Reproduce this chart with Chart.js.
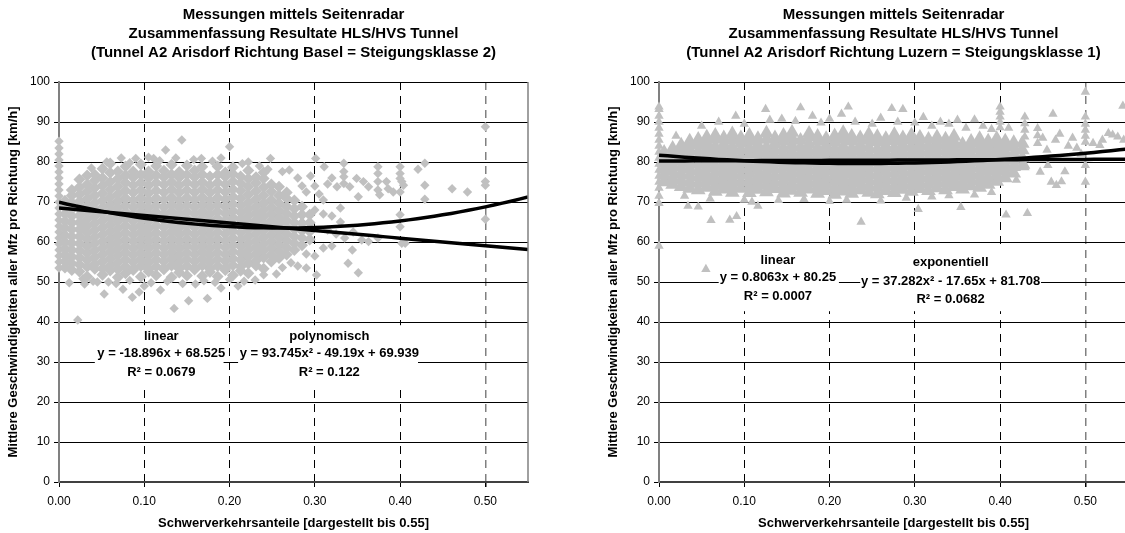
<!DOCTYPE html>
<html>
<head>
<meta charset="utf-8">
<script src="https://cdn.jsdelivr.net/npm/chart.js@4.4.1/dist/chart.umd.min.js"></script>
<style>
  html, body { margin: 0; padding: 0; background: #fff; overflow: hidden; }
  #wrap { position: relative; width: 1125px; height: 533px; overflow: hidden; }
  canvas { position: absolute; top: 0; }
  #basel { left: 0; }
  #luzern { left: 600px; }
</style>
</head>
<body>
<div id="wrap">
  <canvas id="basel" width="560" height="533"></canvas>
  <canvas id="luzern" width="560" height="533"></canvas>
</div>
<script>
// Axis ticks
const xTicks = [0, 0.1, 0.2, 0.3, 0.4, 0.5]
const yTicks = [0, 10, 20, 30, 40, 50, 60, 70, 80, 90, 100]

const xTitle = "Schwerverkehrsanteile [dargestellt bis 0.55]"
const yTitle = "Mittlere Geschwindigkeiten aller Mfz pro Richtung [km/h]"

// Trend line coefficients (highest power first) and R² values
const baselLinear = [-18.896, 68.525]
const baselPoly = [93.745, -49.19, 69.939]
const baselR2 = [0.0679, 0.122]
const luzernLinear = [0.8063, 80.25]
const luzernPoly = [37.282, -17.65, 81.708]
const luzernR2 = [0.0007, 0.0682]

// Basel: speeds measured with no heavy traffic (share 0.00)
const baselZeroY = [53.5, 55, 56.5, 58, 59.5, 61, 62.5, 64, 65.5, 67, 68.5, 70, 71.5, 73, 74.5, 76,
  77.5, 79, 80.5, 82, 83.5, 85.2]
// Basel: measurements grouped by heavy traffic share (dense part of the cloud)
const baselColX = [0.007, 0.015, 0.024, 0.033, 0.042, 0.051, 0.060, 0.069, 0.078, 0.087, 0.096,
  0.105, 0.114, 0.123, 0.132, 0.141, 0.150, 0.159, 0.168, 0.177, 0.186, 0.195, 0.204, 0.213,
  0.222, 0.231, 0.240, 0.249, 0.258, 0.267, 0.276, 0.285, 0.294]
const baselColY = [
  [53.6, 55.2, 56.8, 58.4, 60, 61.7, 63.5, 65.2, 67, 68.7, 70.3],
  [53, 54.6, 56.3, 58, 59.7, 61.4, 63.1, 64.8, 66.5, 68.2, 69.9, 71.6, 73],
  [52.6, 54.4, 56.1, 57.9, 59.6, 61.4, 63.1, 64.9, 66.6, 68.4, 70.1, 71.9, 73.7, 75.6],
  [51.4, 53.8, 55.5, 57.2, 58.9, 60.6, 62.3, 64, 65.7, 67.4, 69.1, 70.8, 72.6, 74.4, 76.6],
  [53.3, 54.5, 56.2, 57.9, 59.6, 61.3, 63, 64.7, 66.4, 68.1, 69.8, 71.6, 73.5, 75.4, 76.8],
  [51.8, 53.4, 55.1, 56.8, 58.5, 60.2, 61.9, 63.6, 65.3, 67, 68.7, 70.4, 72.2, 74.1, 76, 78.3],
  [52.9, 54.1, 55.8, 57.5, 59.2, 60.9, 62.6, 64.3, 66, 67.7, 69.4, 71.2, 73.1, 75, 77.3, 79.6],
  [51.2, 53.2, 54.9, 56.6, 58.3, 60, 61.7, 63.4, 65.1, 66.8, 68.5, 70.2, 72, 73.9, 75.8, 77.6],
  [52.2, 53.9, 55.6, 57.3, 59, 60.7, 62.4, 64.1, 65.8, 67.5, 69.2, 71, 72.9, 74.8, 76.7, 78.9],
  [53, 53.3, 55, 56.7, 58.4, 60.1, 61.8, 63.5, 65.2, 66.9, 68.6, 70.4, 72.3, 74.2, 76.1, 77.6],
  [51.3, 54, 55.7, 57.4, 59.1, 60.8, 62.5, 64.2, 65.9, 67.6, 69.3, 71.1, 73, 74.9, 76.8, 79.4],
  [52.6, 53.2, 54.9, 56.6, 58.3, 60, 61.7, 63.4, 65.1, 66.8, 68.5, 70.3, 72.2, 74.1, 76, 77.6],
  [51.7, 53.9, 55.6, 57.3, 59, 60.7, 62.4, 64.1, 65.8, 67.5, 69.2, 71, 72.9, 74.8, 76.7, 79],
  [53.2, 53.4, 55.1, 56.8, 58.5, 60.2, 61.9, 63.6, 65.3, 67, 68.7, 70.5, 72.4, 74.3, 76.2, 77.8],
  [51.2, 54.1, 55.8, 57.5, 59.2, 60.9, 62.6, 64.3, 66, 67.7, 69.4, 71.2, 73.1, 75, 76.9, 79.3],
  [52.4, 53.3, 55, 56.7, 58.4, 60.1, 61.8, 63.5, 65.2, 66.9, 68.6, 70.4, 72.3, 74.2, 76.1, 77.5],
  [51.6, 54, 55.7, 57.4, 59.1, 60.8, 62.5, 64.2, 65.9, 67.6, 69.3, 71.1, 73, 74.9, 76.8, 79.1],
  [53.1, 53.4, 55.1, 56.8, 58.5, 60.2, 61.9, 63.6, 65.3, 67, 68.7, 70.5, 72.4, 74.3, 76.2, 77.9],
  [51.5, 54.1, 55.8, 57.5, 59.2, 60.9, 62.6, 64.3, 66, 67.7, 69.4, 71.2, 73.1, 75, 76.9, 78.8],
  [52.5, 53.3, 55, 56.7, 58.4, 60.1, 61.8, 63.5, 65.2, 66.9, 68.6, 70.4, 72.3, 74.2, 76.4],
  [51.4, 54, 55.7, 57.4, 59.1, 60.8, 62.5, 64.2, 65.9, 67.6, 69.3, 71.1, 73, 74.9, 76.8, 78.9],
  [53, 53.5, 55.2, 56.9, 58.6, 60.3, 62, 63.7, 65.4, 67.1, 68.8, 70.6, 72.5, 74.4, 76.3, 77.4],
  [51.7, 54.2, 55.9, 57.6, 59.3, 61, 62.7, 64.4, 66.1, 67.8, 69.5, 71.3, 73.2, 75.1, 77, 78.7],
  [52.8, 53.8, 55.5, 57.2, 58.9, 60.6, 62.3, 64, 65.7, 67.4, 69.1, 70.9, 72.8, 74.7, 76.4],
  [52.2, 54.6, 56.3, 58, 59.7, 61.4, 63.1, 64.8, 66.5, 68.2, 69.9, 71.8, 73.8, 75.8, 77.9],
  [54.1, 55.3, 57, 58.7, 60.4, 62.1, 63.8, 65.5, 67.2, 68.9, 70.7, 72.7, 74.8, 76.2],
  [53.3, 56.1, 57.8, 59.5, 61.2, 62.9, 64.6, 66.3, 68, 69.7, 71.6, 73.7, 75.9, 77.4],
  [55.1, 56.8, 58.5, 60.2, 61.9, 63.6, 65.3, 67, 68.7, 70.5, 72.6, 74.4],
  [56, 57.7, 59.4, 61.1, 62.8, 64.5, 66.2, 67.9, 69.7, 71.6, 73.8],
  [56.9, 58.6, 60.3, 62, 63.7, 65.4, 67.1, 68.9, 70.9, 72.4],
  [58, 59.7, 61.4, 63.1, 64.8, 66.5, 68.3, 70.4],
  [59.2, 61, 62.8, 64.7, 66.8, 68.8],
  [60.6, 62.6, 64.8, 66.8]
]
// Basel: single measurements outside the dense part
const baselSingles = [
  [0.022, 40.5], [0.053, 47], [0.012, 49.8], [0.075, 48.2], [0.086, 46.2], [0.094, 47.5], [0.119, 48],
  [0.135, 43.4], [0.152, 45.3], [0.174, 45.9], [0.03, 49.5], [0.045, 50], [0.1, 49], [0.16, 49.5],
  [0.19, 48.5], [0.21, 49], [0.23, 50.5], [0.255, 52], [0.144, 85.5], [0.125, 83], [0.2, 83.8],
  [0.248, 80.9], [0.09, 80.9], [0.111, 80.9], [0.167, 80.9], [0.222, 80], [0.27, 78], [0.28, 76],
  [0.285, 74], [0.29, 72.5], [0.295, 76.5], [0.3, 74], [0.305, 72], [0.31, 70.5], [0.315, 74.5],
  [0.32, 76], [0.3, 68], [0.31, 67], [0.32, 66.5], [0.33, 68.5], [0.315, 63], [0.325, 62], [0.335, 61],
  [0.345, 62.5], [0.355, 60.5], [0.33, 65], [0.29, 57], [0.3, 56.5], [0.31, 58.5], [0.32, 59],
  [0.28, 54], [0.29, 53.5], [0.301, 80.9], [0.311, 78.8], [0.334, 79.7], [0.334, 77.6], [0.334, 76.3],
  [0.334, 74.6], [0.326, 73.8], [0.341, 73.8], [0.349, 75.9], [0.357, 75.1], [0.363, 73.8], [0.351, 71.3],
  [0.374, 78.8], [0.374, 77.1], [0.374, 75.1], [0.374, 73], [0.376, 71.8], [0.384, 75.1], [0.386, 73.3],
  [0.392, 72.5], [0.4, 78.8], [0.4, 77.1], [0.4, 75.9], [0.402, 75.1], [0.4, 72.5], [0.404, 74.2],
  [0.421, 78.2], [0.429, 79.7], [0.429, 74.2], [0.429, 70.7], [0.461, 73.3], [0.479, 72.5], [0.5, 88.8],
  [0.5, 75.1], [0.5, 74.2], [0.5, 65.7], [0.4, 66.8], [0.4, 63.8], [0.402, 59.7], [0.406, 59.7],
  [0.339, 54.7], [0.351, 52.3], [0.363, 60.1], [0.374, 61], [0.344, 58], [0.302, 51.75],
  [0.038, 78.5], [0.056, 80], [0.073, 81], [0.083, 79.8], [0.105, 81.2], [0.118, 80.3], [0.137, 81],
  [0.158, 80.6], [0.18, 80.2], [0.19, 81], [0.215, 79.6], [0.235, 79], [0.245, 78.2], [0.262, 77.6],
  [0.028, 50.8], [0.04, 50.2], [0.058, 50], [0.067, 49.6], [0.083, 50.4], [0.108, 49.8], [0.127, 50.2],
  [0.145, 49.6], [0.17, 50.3], [0.183, 49.9], [0.2, 50.6], [0.217, 50.2], [0.24, 51.8], [0.262, 53.6],
  [0.272, 54.8]
]

// Luzern: speeds measured with no heavy traffic (share 0.00)
const luzernZeroY = [73.5, 75, 76.5, 78, 79.5, 81, 82.5, 84, 85.5, 87, 88.5, 90, 91.5, 93.2]
// Luzern: measurements grouped by heavy traffic share (dense part of the cloud)
const luzernColX = [0.006, 0.016, 0.026, 0.036, 0.046, 0.056, 0.066, 0.076, 0.086, 0.096, 0.106,
  0.116, 0.126, 0.136, 0.146, 0.156, 0.166, 0.176, 0.186, 0.196, 0.206, 0.216, 0.226, 0.236, 0.246,
  0.256, 0.266, 0.276, 0.286, 0.296, 0.306, 0.316, 0.326, 0.336, 0.346, 0.356, 0.366, 0.376, 0.386,
  0.396, 0.406, 0.416, 0.426]
const luzernColY = [
  [75, 76.6, 78.2, 79.8, 81.4, 82.4],
  [74.4, 76, 77.6, 79.2, 80.8, 82.4, 83.4],
  [73.8, 75.4, 77, 78.6, 80.2, 81.8, 83.4, 84.2],
  [73.4, 75, 76.6, 78.2, 79.8, 81.4, 83, 84.6, 85.2],
  [73, 74.6, 76.2, 77.8, 79.4, 81, 82.6, 84.2, 85.6],
  [73.6, 75.2, 76.8, 78.4, 80, 81.6, 83.2, 84.8, 86.2],
  [72.6, 74.2, 75.8, 77.4, 79, 80.6, 82.2, 83.8, 85.6, 86.6],
  [73.2, 74.8, 76.4, 78, 79.6, 81.2, 82.8, 84.4, 86],
  [72.4, 74, 75.6, 77.2, 78.8, 80.4, 82, 83.6, 85.4, 87],
  [73.4, 75, 76.6, 78.2, 79.8, 81.4, 83, 84.6, 86],
  [72.3, 73.9, 75.5, 77.1, 78.7, 80.3, 81.9, 83.5, 85.3, 86.6],
  [73.1, 74.7, 76.3, 77.9, 79.5, 81.1, 82.7, 84.3, 85.8],
  [72.5, 74.1, 75.7, 77.3, 78.9, 80.5, 82.1, 83.7, 85.6, 87.2],
  [73.3, 74.9, 76.5, 78.1, 79.7, 81.3, 82.9, 84.5, 86],
  [72.2, 73.8, 75.4, 77, 78.6, 80.2, 81.8, 83.4, 85.2, 86.6],
  [72.9, 74.5, 76.1, 77.7, 79.3, 80.9, 82.5, 84.1, 86, 87.4],
  [72.4, 74, 75.6, 77.2, 78.8, 80.4, 82, 83.6, 85.4],
  [73.2, 74.8, 76.4, 78, 79.6, 81.2, 82.8, 84.4, 86.2, 87.1],
  [72.1, 73.7, 75.3, 76.9, 78.5, 80.1, 81.7, 83.3, 85.1, 86.4],
  [72.8, 74.4, 76, 77.6, 79.2, 80.8, 82.4, 84, 85.8],
  [71.9, 73.5, 75.1, 76.7, 78.3, 79.9, 81.5, 83.1, 84.9, 86.5],
  [72.7, 74.3, 75.9, 77.5, 79.1, 80.7, 82.3, 83.9, 85.8, 87.3],
  [72.1, 73.7, 75.3, 76.9, 78.5, 80.1, 81.7, 83.3, 85.2, 86.4],
  [73, 74.6, 76.2, 77.8, 79.4, 81, 82.6, 84.2, 86],
  [72.4, 74, 75.6, 77.2, 78.8, 80.4, 82, 83.6, 85.4, 86.9],
  [72, 73.6, 75.2, 76.8, 78.4, 80, 81.6, 83.2, 85, 86.3],
  [72.8, 74.4, 76, 77.6, 79.2, 80.8, 82.4, 84, 85.8],
  [72.3, 73.9, 75.5, 77.1, 78.7, 80.3, 81.9, 83.5, 85.3, 86.8],
  [73.1, 74.7, 76.3, 77.9, 79.5, 81.1, 82.7, 84.3, 86],
  [72.6, 74.2, 75.8, 77.4, 79, 80.6, 82.2, 83.8, 85.5, 86.7],
  [73.3, 74.9, 76.5, 78.1, 79.7, 81.3, 82.9, 84.5, 86.1],
  [72.8, 74.4, 76, 77.6, 79.2, 80.8, 82.4, 84, 85.6],
  [73.5, 75.1, 76.7, 78.3, 79.9, 81.5, 83.1, 84.7, 86.2],
  [73, 74.6, 76.2, 77.8, 79.4, 81, 82.6, 84.2, 85.7],
  [73.8, 75.4, 77, 78.6, 80.2, 81.8, 83.4, 85, 86.4],
  [73.2, 74.8, 76.4, 78, 79.6, 81.2, 82.8, 84.4],
  [74, 75.6, 77.2, 78.8, 80.4, 82, 83.6, 85.1],
  [73.6, 75.2, 76.8, 78.4, 80, 81.6, 83.2, 84.8, 85.8],
  [74.4, 76, 77.6, 79.2, 80.8, 82.4, 84, 85.2],
  [75.1, 76.7, 78.3, 79.9, 81.5, 83.1, 84.7, 85.8],
  [76, 77.6, 79.2, 80.8, 82.4, 84, 85.2],
  [77.2, 78.8, 80.4, 82, 83.6, 84.8],
  [79, 81, 83, 84.6]
]
// Luzern: single measurements outside the dense part
const luzernSingles = [
  [0, 93.8], [0, 71.5], [0, 69.7], [0, 59], [0.055, 53.2], [0.034, 69], [0.046, 68.8], [0.061, 65.4],
  [0.083, 65.5], [0.091, 66.4], [0.109, 70], [0.116, 69], [0.125, 93.2], [0.166, 93.6], [0.144, 90.8],
  [0.09, 91.5], [0.18, 91.5], [0.2, 90.8], [0.214, 92], [0.222, 93.8], [0.237, 65], [0.26, 91],
  [0.273, 93.4], [0.286, 93.2], [0.304, 68.2], [0.31, 91.2], [0.33, 90], [0.35, 90.5], [0.354, 68.7],
  [0.37, 90.6], [0.4, 93.8], [0.4, 92.5], [0.4, 91.3], [0.4, 90], [0.4, 88.6], [0.407, 66.8],
  [0.419, 78.8], [0.419, 75.5], [0.429, 91.3], [0.429, 89.6], [0.429, 88], [0.429, 86.3], [0.43, 79],
  [0.432, 67.2], [0.444, 88.4], [0.444, 86.6], [0.444, 84.7], [0.447, 77.5], [0.45, 86], [0.455, 83],
  [0.456, 79.2], [0.46, 75], [0.462, 92], [0.465, 85.5], [0.466, 74.2], [0.47, 87], [0.472, 75.1],
  [0.476, 77.6], [0.48, 84], [0.485, 86], [0.49, 83.5], [0.495, 82], [0.5, 97.5], [0.5, 91.3],
  [0.5, 89.5], [0.5, 88], [0.5, 86.5], [0.5, 85], [0.5, 79.2], [0.5, 75], [0.509, 84.7], [0.517, 84.2],
  [0.52, 85.5], [0.527, 87.2], [0.532, 86.8], [0.538, 86.3], [0.544, 94], [0.545, 85.5],
  [0.02, 86.5], [0.05, 89], [0.07, 90], [0.1, 89.5], [0.13, 90.5], [0.16, 90.2], [0.19, 89.8],
  [0.23, 90], [0.25, 89.5], [0.28, 90], [0.3, 89.8], [0.32, 89], [0.34, 89.5], [0.36, 88.5],
  [0.38, 89], [0.39, 88.2], [0.41, 88.5], [0.03, 71.5], [0.06, 70.8], [0.1, 70.5], [0.14, 70.4],
  [0.17, 70.7], [0.2, 70.2], [0.22, 70.5], [0.26, 70.3], [0.29, 71], [0.32, 71.3], [0.34, 71.6],
  [0.37, 71.8], [0.39, 72.4]
]

const fontFamily = '"Liberation Sans", Arial, sans-serif'
const trendX = Array.from({ length: 56 }, (_, i) => i / 100)

function polyValue(c, x) {
  return c.reduce((acc, k) => acc * x + k, 0)
}

function equation(c) {
  const pow = ["", "x", "x²"]
  return "y = " + c.map((k, i) => {
    const p = pow[c.length - 1 - i]
    if (i === 0) return k + p
    return (k < 0 ? " - " : " + ") + Math.abs(k) + p
  }).join("")
}

function columnPoints(colX, colY) {
  const pts = []
  colX.forEach((x, i) => colY[i].forEach((y) => pts.push({ x, y })))
  return pts
}

function trendDataset(c) {
  return {
    data: trendX.map((x) => ({ x, y: polyValue(c, x) })),
    showLine: true,
    borderColor: "#000",
    borderWidth: 3.5,
    pointRadius: 0,
    order: 0,
  }
}

function markDataset(points, style, radius) {
  return {
    data: points,
    pointStyle: style,
    pointRadius: radius,
    backgroundColor: "#c0c0c0",
    borderColor: "#c0c0c0",
    pointBorderWidth: 0,
    order: 1,
    clip: false,
  }
}

// Right frame edge and the white trend line equation boxes
const frameAndLabels = {
  id: "frameAndLabels",
  afterDatasetsDraw(chart, args, opts) {
    const { ctx, chartArea: a, scales: { x, y } } = chart
    ctx.save()
    ctx.strokeStyle = "#808080"
    ctx.lineWidth = 1.5
    ctx.beginPath()
    ctx.moveTo(a.right, a.top)
    ctx.lineTo(a.right, a.bottom)
    ctx.stroke()

    ctx.font = "bold 13px " + fontFamily
    ctx.textAlign = "center"
    ctx.textBaseline = "middle"
    opts.blocks.forEach((b) => {
      const x0 = x.getPixelForValue(b.box[0])
      const x1 = x.getPixelForValue(b.box[1])
      const y0 = y.getPixelForValue(b.box[2])
      const y1 = y.getPixelForValue(b.box[3])
      ctx.fillStyle = "#fff"
      ctx.fillRect(x0, y0, x1 - x0, y1 - y0)
      ctx.fillStyle = "#000"
      b.lines.forEach((t, i) => ctx.fillText(t, x.getPixelForValue(b.x), y.getPixelForValue(b.ys[i])))
    })
    ctx.restore()
  },
}

function makeChart(id, titleLines, marks, linear, poly, blocks) {
  const tickFont = { family: fontFamily, size: 12 }
  const axisFont = { family: fontFamily, size: 13, weight: "bold", lineHeight: 1.2 }
  return new Chart(document.getElementById(id), {
    type: "scatter",
    data: {
      datasets: [trendDataset(linear), trendDataset(poly), ...marks],
    },
    options: {
      responsive: false,
      animation: false,
      events: [],
      layout: { padding: { left: 0, right: 32, top: 0, bottom: 0 } },
      scales: {
        x: {
          type: "linear",
          min: 0,
          max: 0.55,
          afterBuildTicks: (s) => { s.ticks = xTicks.map((v) => ({ value: v })) },
          afterFit: (s) => { s.height = 51 },
          grid: {
            color: (c) => (c.tick.value === 0 ? "rgba(0,0,0,0)" : c.tick.value === 0.5 ? "#808080" : "#000"),
            lineWidth: (c) => (c.tick.value === 0.5 ? 1.5 : 1),
            tickColor: "#000",
            tickLength: 5,
          },
          border: { color: "#404040", width: 2, dash: [8, 6] },
          ticks: { color: "#000", font: tickFont, padding: 7, maxRotation: 0, autoSkip: false, callback: (v) => v.toFixed(2) },
          title: { display: true, text: xTitle, color: "#000", font: axisFont, padding: { top: 0, bottom: 2 } },
        },
        y: {
          type: "linear",
          min: 0,
          max: 100,
          afterBuildTicks: (s) => { s.ticks = yTicks.map((v) => ({ value: v })) },
          afterFit: (s) => { s.width = 59 },
          grid: { color: "#000", lineWidth: 1, tickColor: "#000", tickLength: 5 },
          border: { color: "#808080", width: 2 },
          ticks: { color: "#000", font: tickFont, padding: 4 },
          title: { display: true, text: yTitle, color: "#000", font: axisFont, padding: { top: 6, bottom: 0 } },
        },
      },
      plugins: {
        legend: { display: false },
        tooltip: { enabled: false },
        title: {
          display: true,
          text: titleLines,
          color: "#000",
          fullSize: false,
          font: { family: fontFamily, size: 15, weight: "bold", lineHeight: "19px" },
          padding: { top: 5, bottom: 20 },
        },
        frameAndLabels: { blocks },
      },
    },
    plugins: [frameAndLabels],
  })
}

makeChart(
  "basel",
  ["Messungen mittels Seitenradar", "Zusammenfassung Resultate HLS/HVS Tunnel", "(Tunnel A2 Arisdorf Richtung Basel = Steigungsklasse 2)"],
  [
    markDataset(columnPoints(baselColX, baselColY), "rectRot", 6),
    markDataset(baselZeroY.map((y) => ({ x: 0, y })), "rectRot", 4.7),
    markDataset(baselSingles.map(([x, y]) => ({ x, y })), "rectRot", 4.7),
  ],
  baselLinear,
  baselPoly,
  [
    { x: 0.12, ys: [36.3, 32.2, 27.3], box: [0.042, 0.193, 39.2, 23.3], lines: ["linear", equation(baselLinear), "R² = " + baselR2[0]] },
    { x: 0.317, ys: [36.3, 32.2, 27.3], box: [0.21, 0.421, 39.2, 23.3], lines: ["polynomisch", equation(baselPoly), "R² = " + baselR2[1]] },
  ]
)

makeChart(
  "luzern",
  ["Messungen mittels Seitenradar", "Zusammenfassung Resultate HLS/HVS Tunnel", "(Tunnel A2 Arisdorf Richtung Luzern = Steigungsklasse 1)"],
  [
    markDataset(columnPoints(luzernColX, luzernColY), "triangle", 8.5),
    markDataset(luzernZeroY.map((y) => ({ x: 0, y })), "triangle", 5.4),
    markDataset(luzernSingles.map(([x, y]) => ({ x, y })), "triangle", 5.4),
  ],
  luzernLinear,
  luzernPoly,
  [
    { x: 0.1395, ys: [55.5, 51.2, 46.5], box: [0.07, 0.211, 58.5, 42.7], lines: ["linear", equation(luzernLinear), "R² = " + luzernR2[0]] },
    { x: 0.342, ys: [55, 50.2, 45.7], box: [0.236, 0.448, 58.5, 42.7], lines: ["exponentiell", equation(luzernPoly), "R² = " + luzernR2[1]] },
  ]
)
</script>
</body>
</html>
